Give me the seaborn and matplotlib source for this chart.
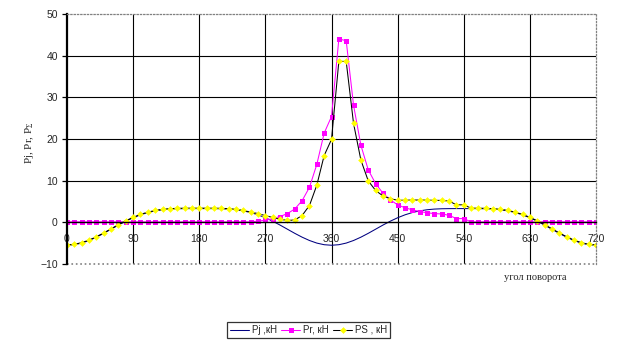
import numpy as np
import pandas as pd
import seaborn as sns
import matplotlib
matplotlib.use("Agg")
import matplotlib.pyplot as plt

# угол поворота коленчатого вала, шаг 10 град
angle = list(range(0, 721, 10))

# сила инерции Pj, кН
pj = [-5.50, -5.37, -4.98, -4.36, -3.56, -2.64, -1.65, -0.66, 0.27, 1.10,
      1.80, 2.35, 2.75, 3.02, 3.18, 3.26, 3.29, 3.30, 3.30, 3.30,
      3.29, 3.26, 3.18, 3.02, 2.75, 2.35, 1.80, 1.10, 0.27, -0.66,
      -1.65, -2.64, -3.56, -4.36, -4.98, -5.37, -5.50, -5.37, -4.98, -4.36,
      -3.56, -2.64, -1.65, -0.66, 0.27, 1.10, 1.80, 2.35, 2.75, 3.02,
      3.18, 3.26, 3.29, 3.30, 3.30, 3.30, 3.29, 3.26, 3.18, 3.02,
      2.75, 2.35, 1.80, 1.10, 0.27, -0.66, -1.65, -2.64, -3.56, -4.36,
      -4.98, -5.37, -5.50]

# сила давления газов Pr, кН
pr = [0.1, 0.1, 0.1, 0.1, 0.1, 0.1, 0.1, 0.1, 0.1, 0.1,
      0.1, 0.1, 0.1, 0.1, 0.1, 0.1, 0.1, 0.1, 0.1, 0.1,
      0.1, 0.1, 0.1, 0.1, 0.1, 0.1, 0.3, 0.5, 0.9, 1.4,
      2.1, 3.2, 5.2, 8.4, 13.9, 21.4, 25.4, 44.0, 43.6, 28.1,
      18.5, 12.6, 9.3, 7.0, 5.4, 4.2, 3.5, 3.0, 2.6, 2.3,
      2.1, 2.0, 1.7, 0.9, 0.9, 0.1, 0.1, 0.1, 0.1, 0.1,
      0.1, 0.1, 0.1, 0.1, 0.1, 0.1, 0.1, 0.1, 0.1, 0.1,
      0.1, 0.1, 0.1]

# суммарная сила PS, кН
ps = [-5.40, -5.27, -4.88, -4.26, -3.46, -2.54, -1.55, -0.56, 0.37, 1.20,
      1.90, 2.45, 2.85, 3.12, 3.28, 3.36, 3.39, 3.40, 3.40, 3.40,
      3.39, 3.36, 3.28, 3.12, 2.85, 2.45, 2.10, 1.60, 1.17, 0.74,
      0.45, 0.56, 1.64, 4.04, 8.92, 16.03, 19.90, 38.63, 38.62, 23.74,
      14.94, 9.96, 7.65, 6.34, 5.67, 5.30, 5.30, 5.35, 5.35, 5.32,
      5.28, 5.26, 5.10, 4.20, 4.20, 3.40, 3.39, 3.36, 3.28, 3.12,
      2.85, 2.45, 1.90, 1.20, 0.37, -0.56, -1.55, -2.54, -3.46, -4.26,
      -4.88, -5.27, -5.40]

x_ticks = list(range(0, 721, 90))
y_ticks = list(range(-10, 51, 10))

df = pd.DataFrame({"angle": angle, "Pj": pj, "Pr": pr, "PS": ps})

sns.set_style("white")
plt.rcParams["font.family"] = ["Liberation Sans", "DejaVu Sans"]
plt.rcParams["mathtext.fontset"] = "custom"
plt.rcParams["mathtext.rm"] = "Liberation Serif"
plt.rcParams["mathtext.it"] = "Liberation Serif"

fig = plt.figure(figsize=(6.23, 3.54), dpi=100)
ax = fig.add_axes([67 / 623, 1 - 264 / 354, (596 - 67) / 623, (264 - 14) / 354])

# сетка
ax.vlines(x_ticks[1:-1], -10, 50, color="black", lw=0.8, zorder=0.5)
ax.hlines(y_ticks[2:-1], 0, 720, color="black", lw=0.8, zorder=0.5)

sns.lineplot(data=df, x="angle", y="Pj", color="#000080", lw=0.75,
             ax=ax, label="Pj ,кН")
sns.lineplot(data=df, x="angle", y="Pr", color="#FF00FF", lw=0.75,
             marker="s", markersize=3.6, markeredgewidth=0,
             ax=ax, label="Pr, кН")
sns.lineplot(data=df, x="angle", y="PS", color="black", lw=0.75,
             marker="D", markersize=3.4, markerfacecolor="#FFFF00",
             markeredgecolor="#FFFF00", markeredgewidth=0,
             ax=ax, label="PS , кН")

ax.set_xlim(0, 720)
ax.set_ylim(-10, 50)
ax.set_xticks(x_ticks)
ax.set_yticks(y_ticks)
ax.set_xlabel("")
ax.set_ylabel("")

ax.spines["bottom"].set_position(("data", 0))
ax.spines["bottom"].set_color("black")
ax.spines["bottom"].set_linewidth(1.0)
ax.spines["left"].set_color("black")
ax.spines["left"].set_linewidth(1.6)
for s in ["top", "right"]:
    ax.spines[s].set_color("#808080")
    ax.spines[s].set_linestyle(":")
    ax.spines[s].set_linewidth(0.9)
ax.axhline(-10, color="#808080", ls=":", lw=1.2, clip_on=False)

ax.tick_params(axis="x", length=0, pad=8.5, labelsize=7.5)
ax.tick_params(axis="y", length=3.6, width=0.9, pad=3, labelsize=7.5,
               left=True, color="black")

fig.text(30 / 623, 1 - 143 / 354, r"Pj, Pr, P$_{\Sigma}$", rotation=90,
         ha="center", va="center", family="Liberation Serif", fontsize=8)
fig.text(535 / 623, 1 - 278 / 354, "угол поворота", ha="center", va="center",
         family="Liberation Serif", fontsize=7.5)

handles, labels = ax.get_legend_handles_labels()
ax.get_legend().remove()
leg = fig.legend(handles, labels, loc="center",
                 bbox_to_anchor=(308.5 / 623, 1 - 330 / 354), ncol=3,
                 frameon=True, fancybox=False, edgecolor="black",
                 fontsize=7, handlelength=2.0, columnspacing=0.4,
                 handletextpad=0.3, borderpad=0.3, borderaxespad=0)
leg.get_frame().set_linewidth(0.9)

fig.savefig("out.png", dpi=100)
